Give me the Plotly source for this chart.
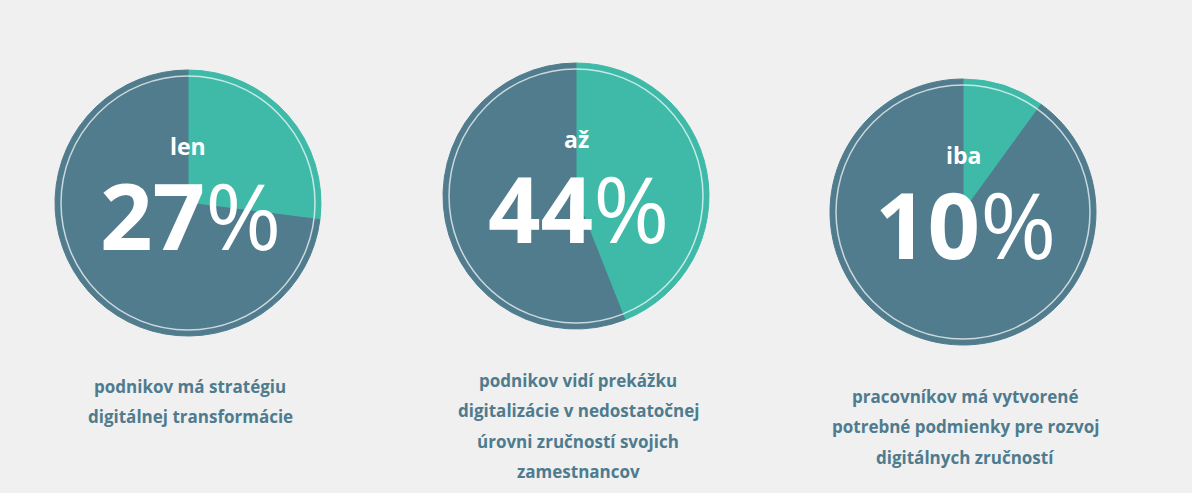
import plotly.graph_objects as go

# values
shares = [27, 44, 10]
prefixes = ["len", "až", "iba"]
captions = [
    ["podnikov má stratégiu", "digitálnej transformácie"],
    ["podnikov vidí prekážku", "digitalizácie v nedostatočnej",
     "úrovni zručností svojich", "zamestnancov"],
    ["pracovníkov má vytvorené", "potrebné podmienky pre rozvoj",
     "digitálnych zručností"],
]

W, H = 1192, 493
teal = "#3fbaa8"
slate = "#507c8d"
text_col = "#4e7b8e"

# circle centres and radius in pixels
centres = [(188, 203), (576, 196), (963, 212)]
r = 133
caption_top = [386, 380, 396]
line_gap = 30.5


def px(x):
    return x / W


def py(y):
    return 1 - y / H


fig = go.Figure()
annotations = []
shapes = []

for i, s in enumerate(shares):
    cx, cy = centres[i]
    fig.add_trace(go.Pie(
        values=[s, 100 - s],
        sort=False,
        direction="clockwise",
        rotation=0,
        marker=dict(colors=[teal, slate], line=dict(color=[teal, slate], width=1)),
        textinfo="none",
        hoverinfo="skip",
        showlegend=False,
        domain=dict(x=[px(cx - r), px(cx + r)], y=[py(cy + r), py(cy - r)]),
    ))
    ri = r - 6
    shapes.append(dict(
        type="circle", xref="paper", yref="paper",
        x0=px(cx - ri), x1=px(cx + ri), y0=py(cy + ri), y1=py(cy - ri),
        line=dict(color="rgba(255,255,255,0.7)", width=1.5),
    ))
    annotations.append(dict(
        x=px(cx), y=py(cy - 57), xref="paper", yref="paper",
        xanchor="center", yanchor="middle",
        text="<b>%s</b>" % prefixes[i], showarrow=False,
        font=dict(family="Open Sans", size=23, color="white"),
    ))
    annotations.append(dict(
        x=px(cx + 2), y=py(cy + 11), xref="paper", yref="paper",
        xanchor="center", yanchor="middle", height=84,
        text="<b>%d</b>%%" % s, showarrow=False,
        font=dict(family="Open Sans", size=92, color="white"),
    ))
    for j, line in enumerate(captions[i]):
        annotations.append(dict(
            x=px(cx + 2), y=py(caption_top[i] + j * line_gap),
            xref="paper", yref="paper",
            xanchor="center", yanchor="middle",
            text="<b>%s</b>" % line, showarrow=False,
            font=dict(family="Open Sans", size=17, color=text_col),
        ))

fig.update_layout(
    width=W, height=H,
    margin=dict(l=0, r=0, t=0, b=0),
    paper_bgcolor="#f0f0f0",
    plot_bgcolor="#f0f0f0",
    annotations=annotations,
    shapes=shapes,
)

fig.write_html(
    "out.html",
    config={"displayModeBar": False},
    post_script="document.body.style.margin='0';"
                "document.body.style.background='#f0f0f0';",
)
